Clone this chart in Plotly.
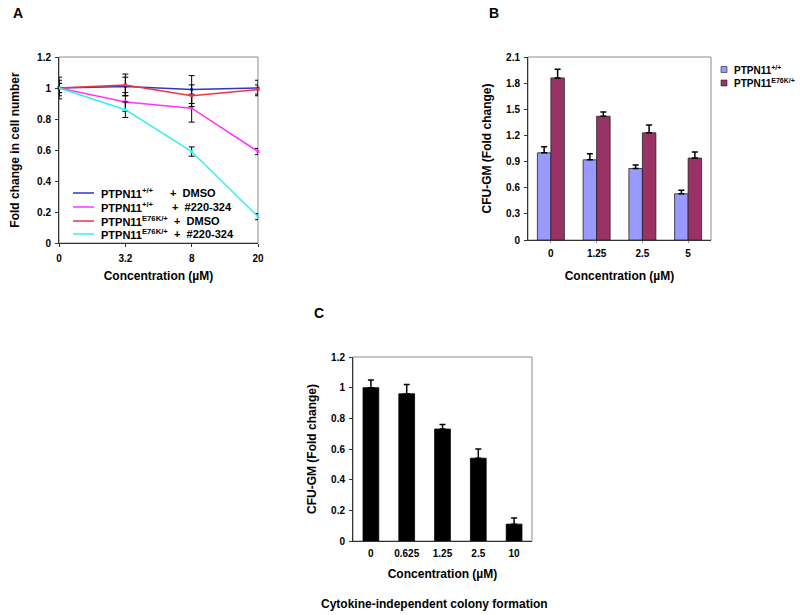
import plotly.graph_objects as go

W, H = 800, 615
FONT = "Liberation Sans, Arial, sans-serif"

# ---------------- Data ----------------
# Panel A: fold change in cell number
a_conc = ["0", "3.2", "8", "20"]
a_names = ["PTPN11+/+ + DMSO", "PTPN11+/+ + #220-324",
           "PTPN11E76K/+ + DMSO", "PTPN11E76K/+ + #220-324"]
a_geno = ["PTPN11<sup>+/+</sup>", "PTPN11<sup>+/+</sup>",
          "PTPN11<sup>E76K/+</sup>", "PTPN11<sup>E76K/+</sup>"]
a_treat = ["+  DMSO", "+  #220-324", "+  DMSO", "+  #220-324"]
a_wt_dmso = [1.0, 1.01, 0.99, 1.0]
a_wt_dmso_err = [0.07, 0.06, 0.09, 0.05]
a_wt_drug = [1.0, 0.91, 0.87, 0.59]
a_wt_drug_err = [0.03, 0.06, 0.09, 0.02]
a_mut_dmso = [1.0, 1.02, 0.95, 0.99]
a_mut_dmso_err = [0.05, 0.07, 0.07, 0.03]
a_mut_drug = [1.0, 0.86, 0.59, 0.17]
a_mut_drug_err = [0.03, 0.05, 0.03, 0.02]
a_colors = ["#3333cc", "#ff33ff", "#ee3344", "#33eeee"]
a_yticks = [0, 0.2, 0.4, 0.6, 0.8, 1.0, 1.2]

# Panel B: CFU-GM fold change
b_conc = ["0", "1.25", "2.5", "5"]
b_names = ["PTPN11<sup>+/+</sup>", "PTPN11<sup>E76K/+</sup>"]
b_wt = [1.0, 0.92, 0.82, 0.53]
b_wt_err = [0.07, 0.07, 0.04, 0.04]
b_mut = [1.86, 1.42, 1.23, 0.94]
b_mut_err = [0.10, 0.05, 0.09, 0.07]
b_colors = ["#9999ff", "#993366"]
b_yticks = [0, 0.3, 0.6, 0.9, 1.2, 1.5, 1.8, 2.1]

# Panel C: cytokine-independent colony formation
c_conc = ["0", "0.625", "1.25", "2.5", "10"]
c_vals = [1.0, 0.96, 0.73, 0.54, 0.11]
c_err = [0.05, 0.06, 0.03, 0.06, 0.04]
c_yticks = [0, 0.2, 0.4, 0.6, 0.8, 1.0, 1.2]


def px(p):
    return p / W


def py(p):
    return 1 - p / H


fig = go.Figure()

# ---------------- Panel A traces ----------------
a_series = [(a_wt_dmso, a_wt_dmso_err), (a_wt_drug, a_wt_drug_err),
            (a_mut_dmso, a_mut_dmso_err), (a_mut_drug, a_mut_drug_err)]
for i, (vals, errs) in enumerate(a_series):
    fig.add_trace(go.Scatter(
        x=list(range(len(a_conc))), y=vals, name=a_names[i],
        mode="lines+markers",
        line=dict(color=a_colors[i], width=1.5),
        marker=dict(color=a_colors[i], size=3, symbol="square"),
        error_y=dict(type="data", array=errs, color="black", thickness=1, width=3),
        cliponaxis=False, showlegend=False,
        xaxis="x", yaxis="y",
    ))

# ---------------- Panel B traces ----------------
for name, vals, errs, col in [(b_names[0], b_wt, b_wt_err, b_colors[0]),
                              (b_names[1], b_mut, b_mut_err, b_colors[1])]:
    fig.add_trace(go.Bar(
        x=b_conc, y=vals, name=name,
        marker=dict(color=col, line=dict(color="#222222", width=0.8)),
        error_y=dict(type="data", array=errs, arrayminus=[0] * len(errs),
                     symmetric=False, color="black", thickness=1.5, width=3),
        showlegend=False, xaxis="x2", yaxis="y2",
    ))

# ---------------- Panel C traces ----------------
fig.add_trace(go.Bar(
    x=c_conc, y=c_vals, name="CFU-GM",
    marker=dict(color="black", line=dict(color="black", width=0.8)),
    error_y=dict(type="data", array=c_err, arrayminus=[0] * len(c_err),
                 symmetric=False, color="black", thickness=1.5, width=3),
    width=0.44,
    showlegend=False, xaxis="x3", yaxis="y3",
))

tickfont = dict(family=FONT, size=10, color="black", weight="bold")
titlefont = dict(family=FONT, size=12, color="black", weight="bold")

common_axis = dict(showgrid=False, zeroline=False, showline=True,
                   linecolor="#333333", linewidth=1, automargin=False,
                   tickfont=tickfont)

fig.update_layout(
    width=W, height=H,
    margin=dict(l=0, r=0, t=0, b=0),
    paper_bgcolor="white", plot_bgcolor="white",
    font=dict(family=FONT, color="black"),
    barmode="group",
    bargap=0.41, bargroupgap=0,
    xaxis=dict(domain=[px(59), px(258)], anchor="y", range=[0, 3],
               tickvals=list(range(len(a_conc))), ticktext=a_conc,
               ticks="outside", ticklen=3, tickcolor="#333333", ticklabelstandoff=3,
               title=dict(text="Concentration (µM)", font=titlefont, standoff=8),
               **common_axis),
    yaxis=dict(domain=[py(243), py(57)], anchor="x", range=[0, 1.2],
               tickvals=a_yticks, ticks="outside", ticklen=3, tickcolor="#333333",
               ticklabelstandoff=2,
               title=dict(text="Fold change in cell number", font=titlefont, standoff=14),
               **common_axis),
    xaxis2=dict(domain=[px(528), px(711)], anchor="y2",
                ticks="outside", ticklen=2, tickcolor="#999999", ticklabelstandoff=2,
                title=dict(text="Concentration (µM)", font=titlefont, standoff=13),
                **common_axis),
    yaxis2=dict(domain=[py(240), py(57)], anchor="x2", range=[0, 2.1],
                tickvals=b_yticks, ticks="outside", ticklen=3, tickcolor="#333333",
                ticklabelstandoff=2,
                title=dict(text="CFU-GM (Fold change)", font=titlefont, standoff=11),
                **common_axis),
    xaxis3=dict(domain=[px(353), px(532)], anchor="y3",
                ticks="", ticklabelstandoff=3,
                title=dict(text="Concentration (µM)", font=titlefont, standoff=11),
                **common_axis),
    yaxis3=dict(domain=[py(541), py(357)], anchor="x3", range=[0, 1.2],
                tickvals=c_yticks, ticks="outside", ticklen=3, tickcolor="#333333",
                ticklabelstandoff=2,
                title=dict(text="CFU-GM (Fold change)", font=titlefont, standoff=11),
                **common_axis),
)

shapes = []
# grey plot-area frames
for xr, yr in [("x domain", "y domain"), ("x2 domain", "y2 domain"), ("x3 domain", "y3 domain")]:
    shapes.append(dict(type="rect", xref=xr, yref=yr, x0=0, x1=1, y0=0, y1=1,
                       line=dict(color="#8c8c8c", width=1), layer="below"))

annotations = []
# Panel letters
for letter, lx, ly in [("A", 11, 13), ("B", 487, 13), ("C", 312, 313)]:
    annotations.append(dict(text=letter, x=px(lx), y=py(ly), xref="paper", yref="paper",
                            showarrow=False, xanchor="left", yanchor="middle",
                            font=dict(family=FONT, size=14, color="black", weight="bold")))

# Panel A legend (inside plot)
leg_rows = [193, 207, 221, 234]
treat_x = [168, 170, 172, 172]
legfont = dict(family=FONT, size=11, color="black", weight="bold")
for i in range(4):
    shapes.append(dict(type="line", xref="paper", yref="paper",
                       x0=px(73), x1=px(94), y0=py(leg_rows[i]), y1=py(leg_rows[i]),
                       line=dict(color=a_colors[i], width=1.5)))
    annotations.append(dict(text=a_geno[i], x=px(99), y=py(leg_rows[i]),
                            xref="paper", yref="paper", showarrow=False,
                            xanchor="left", yanchor="middle", font=legfont))
    annotations.append(dict(text=a_treat[i], x=px(treat_x[i]), y=py(leg_rows[i]),
                            xref="paper", yref="paper", showarrow=False,
                            xanchor="left", yanchor="middle", font=legfont))

# Panel B legend (outside right)
for i, ry in enumerate([69.5, 83]):
    shapes.append(dict(type="rect", xref="paper", yref="paper",
                       x0=px(721), x1=px(727), y0=py(ry - 3), y1=py(ry + 3),
                       fillcolor=b_colors[i], line=dict(color="#222222", width=0.6)))
    annotations.append(dict(text=b_names[i], x=px(732), y=py(ry),
                            xref="paper", yref="paper", showarrow=False,
                            xanchor="left", yanchor="middle",
                            font=dict(family=FONT, size=10, color="black", weight="bold")))

# Caption for panel C
annotations.append(dict(text="Cytokine-independent colony formation", x=px(435), y=py(604),
                        xref="paper", yref="paper", showarrow=False,
                        xanchor="center", yanchor="middle",
                        font=dict(family=FONT, size=12, color="black", weight="bold")))

fig.update_layout(shapes=shapes, annotations=annotations)

fig.write_html("out.html", config={"displayModeBar": False},
               post_script="document.body.style.margin='0px';")
